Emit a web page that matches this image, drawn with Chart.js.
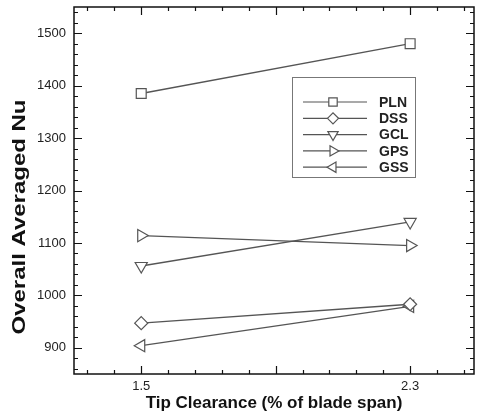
<!DOCTYPE html>
<html lang="en">
<head>
<meta charset="UTF-8">
<title>Overall Averaged Nu vs Tip Clearance</title>
<script src="https://cdn.jsdelivr.net/npm/chart.js"></script>
<style>
  html, body { margin: 0; padding: 0; background: #fff; }
  #wrap { width: 478px; height: 415px; }
</style>
</head>
<body>
<div id="wrap"><canvas id="nuChart"></canvas></div>
<script>
// tip clearance (% of blade span) and overall averaged Nu per tip geometry
const tipClearance = [1.5, 2.3];
const seriesNames = ['PLN', 'DSS', 'GCL', 'GPS', 'GSS'];
const plnNu = [1385, 1480];
const dssNu = [947, 983];
const gclNu = [1056, 1140];
const gpsNu = [1114, 1095];
const gssNu = [904, 979];
const xTickLabels = [1.5, 2.3];
const yTickLabels = [900, 1000, 1100, 1200, 1300, 1400, 1500];
const yTitle = 'Overall Averaged Nu';
const xTitle = 'Tip Clearance (% of blade span)';

const FONT = "'Liberation Sans', Arial, sans-serif";
const INK = '#555';

// marker for each series
const markers = [
    { pointStyle: 'rect', rotation: 0, radius: 7 },
    { pointStyle: 'rectRot', rotation: 0, radius: 6.5 },
    { pointStyle: 'triangle', rotation: 180, radius: 7 },
    { pointStyle: 'triangle', rotation: 90, radius: 7 },
    { pointStyle: 'triangle', rotation: -90, radius: 7 }
];
const seriesValues = [plnNu, dssNu, gclNu, gpsNu, gssNu];

const datasets = seriesNames.map((name, i) => ({
    label: name,
    data: tipClearance.map((x, j) => ({ x: x, y: seriesValues[i][j] })),
    borderColor: INK,
    borderWidth: 1.3,
    pointStyle: markers[i].pointStyle,
    rotation: markers[i].rotation,
    pointRadius: markers[i].radius,
    pointHoverRadius: markers[i].radius,
    pointBackgroundColor: '#fff',
    pointBorderColor: INK,
    pointBorderWidth: 1.2,
    clip: false
}));

// frame + inward ticks on all four sides (tecplot style)
const frameTicks = {
    id: 'frameTicks',
    afterDraw(chart) {
        const { ctx, chartArea: a, scales: { x, y } } = chart;
        ctx.save();
        ctx.strokeStyle = '#111';
        ctx.lineWidth = 1.5;
        ctx.strokeRect(a.left, a.top, a.right - a.left, a.bottom - a.top);
        ctx.lineWidth = 1.2;
        ctx.beginPath();
        // x: step 0.08, major every 0.4 starting at 1.5
        for (let k = -2; k <= 12; k++) {
            const v = 1.5 + k * 0.08;
            if (v < x.min || v > x.max) continue;
            const px = Math.round(x.getPixelForValue(v)) + 0.5;
            const len = (k % 5 === 0) ? 8 : 4;
            ctx.moveTo(px, a.bottom); ctx.lineTo(px, a.bottom - len);
            ctx.moveTo(px, a.top); ctx.lineTo(px, a.top + len);
        }
        // y: step 20, major every 100
        for (let v = 860; v <= 1540; v += 20) {
            const py = Math.round(y.getPixelForValue(v)) + 0.5;
            const len = (v % 100 === 0) ? 8 : 4;
            ctx.moveTo(a.left, py); ctx.lineTo(a.left + len, py);
            ctx.moveTo(a.right, py); ctx.lineTo(a.right - len, py);
        }
        ctx.stroke();

        // y title: tall, stretched bold lettering like the original plot
        ctx.translate(20, a.top + 210);
        ctx.rotate(-Math.PI / 2);
        ctx.font = 'bold 18px ' + FONT;
        const w = ctx.measureText(yTitle).width;
        ctx.scale(235 / w, 1);
        ctx.fillStyle = '#111';
        ctx.textAlign = 'center';
        ctx.textBaseline = 'middle';
        ctx.fillText(yTitle, 0, 0);
        ctx.restore();
    }
};

// boxed legend with line + marker samples
const boxLegend = {
    id: 'boxLegend',
    afterDraw(chart) {
        const { ctx, chartArea: a } = chart;
        const bx = a.left + 218, by = a.top + 70, bw = 123, bh = 100;
        ctx.save();
        ctx.fillStyle = '#fff';
        ctx.fillRect(bx, by, bw, bh);
        ctx.strokeStyle = '#777';
        ctx.lineWidth = 1;
        ctx.strokeRect(bx + 0.5, by + 0.5, bw, bh);
        chart.data.datasets.forEach((ds, i) => {
            const ry = by + 25 + i * 16.3;
            ctx.strokeStyle = INK;
            ctx.lineWidth = 1.2;
            ctx.beginPath();
            ctx.moveTo(bx + 11, ry); ctx.lineTo(bx + 75, ry);
            ctx.stroke();
            ctx.fillStyle = '#fff';
            Chart.helpers.drawPoint(ctx, {
                pointStyle: ds.pointStyle, rotation: ds.rotation,
                radius: ds.pointRadius * 0.85, borderWidth: 1
            }, bx + 41, ry);
            ctx.fillStyle = '#222';
            ctx.font = 'bold 14px ' + FONT;
            ctx.textBaseline = 'middle';
            ctx.fillText(ds.label, bx + 87, ry + 1);
        });
        ctx.restore();
    }
};

new Chart(document.getElementById('nuChart'), {
    type: 'line',
    data: { datasets: datasets },
    options: {
        responsive: true,
        maintainAspectRatio: false,
        animation: false,
        layout: { autoPadding: false, padding: { top: 7, right: 4, left: 0, bottom: 0 } },
        plugins: { legend: { display: false }, tooltip: { enabled: false } },
        scales: {
            x: {
                type: 'linear', min: 1.3, max: 2.49,
                grid: { display: false, drawTicks: false }, border: { display: false },
                afterBuildTicks: s => { s.ticks = xTickLabels.map(v => ({ value: v })); },
                afterFit: s => { s.height = 41; s.paddingLeft = 0; s.paddingRight = 0; },
                ticks: { color: '#222', padding: 5, font: { family: FONT, size: 13 }, maxRotation: 0,
                    callback: v => v.toFixed(1) },
                title: { display: true, text: xTitle, color: '#111',
                    font: { family: FONT, size: 17, weight: 'bold' }, padding: { top: 0, bottom: 1 } }
            },
            y: {
                min: 850, max: 1550,
                grid: { display: false, drawTicks: false }, border: { display: false },
                afterBuildTicks: s => { s.ticks = yTickLabels.map(v => ({ value: v })); },
                afterFit: s => { s.width = 74; s.paddingTop = 0; s.paddingBottom = 0; },
                ticks: { color: '#222', padding: 8, font: { family: FONT, size: 13 },
                    callback: v => String(v) }
            }
        }
    },
    plugins: [frameTicks, boxLegend]
});
</script>
</body>
</html>
